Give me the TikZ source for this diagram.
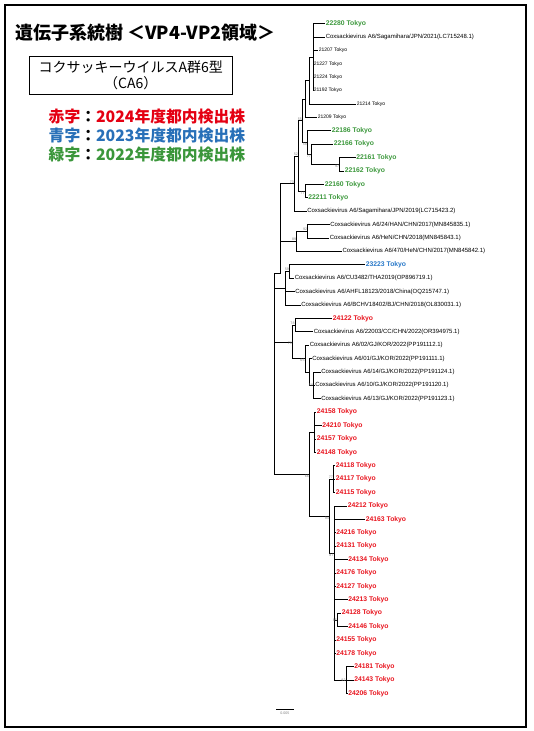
\documentclass[tikz,border=0pt]{standalone}
\usepackage{fontspec}
\setmainfont{Liberation Sans}
\newfontfamily\jpfont{Noto Sans CJK JP}
\usetikzlibrary{positioning}
\definecolor{tred}{RGB}{232,20,30}
\definecolor{tgreen}{RGB}{60,152,60}
\definecolor{tblue}{RGB}{40,120,200}
\definecolor{lred}{RGB}{228,0,18}
\definecolor{lblue}{RGB}{40,112,184}
\definecolor{lgreen}{RGB}{58,150,58}
\tikzset{
  branch/.style={line width=0.8pt},
  tipk/.style={anchor=west, inner xsep=0.6pt, inner ysep=0.4pt, font=\fontsize{6}{7}\selectfont},
  tipsm/.style={tipk, font=\fontsize{5}{6}\selectfont},
  tipg/.style={tipk, text=tgreen, font=\fontsize{6.8}{8}\selectfont\bfseries},
  tipc/.style={tipg, text=tblue},
  tipr/.style={tipg, text=tred},
  bsa/.style={anchor=south east, inner sep=0.3pt, text=gray, font=\fontsize{3.6}{4}\selectfont},
  bsb/.style={bsa, anchor=north east},
  bse/.style={bsa, anchor=east},
  legline/.style={anchor=west, inner sep=0pt, font=\jpfont\fontsize{15.8}{17}\selectfont\bfseries},
}
\begin{document}
\begin{tikzpicture}[x=1pt, y=-1pt]
\useasboundingbox (0,0) rectangle (533,731);
\draw[line width=1.2pt] (5,5) rectangle (526,727);

% heading and legend
\node[anchor=west, inner sep=0pt, font=\jpfont\fontsize{18}{20}\selectfont\bfseries] (title) at (15,33) {遺伝子系統樹 ＜VP4-VP2領域＞};
\node[draw, line width=0.9pt, minimum width=203pt, minimum height=37.6pt, inner sep=0pt, align=center, font=\jpfont\fontsize{14}{15.5}\selectfont] (cabox) at (130.8,75.5) {コクサッキーウイルスA群6型\\（CA6）};
\node[legline, text=lred] (legr) at (48.5,116.7) {赤字{\color{black}：}2024年度都内検出株};
\node[legline, text=lblue] (legb) at (48.5,135.3) {青字{\color{black}：}2023年度都内検出株};
\node[legline, text=lgreen] (legg) at (48.5,154.3) {緑字{\color{black}：}2022年度都内検出株};

% internal nodes of the tree
\coordinate (C1) at (313,57.1);
\coordinate (N309) at (309,80.6);
\coordinate (N305) at (305.3,99);
\coordinate (G3) at (339.7,164.3);
\coordinate (G2) at (311.3,154.3);
\coordinate (G1) at (307.3,142.5);
\coordinate (N55) at (302.3,120.8);
\coordinate (N77) at (305,191.1);
\coordinate (N52) at (298.3,156);
\coordinate (N73) at (294.3,183.6);
\coordinate (H92) at (307.7,231.3);
\coordinate (H89) at (296.7,241.4);
\coordinate (U) at (280.7,273.3);
\coordinate (B1) at (289.3,271.5);
\coordinate (B0) at (285.5,288.3);
\coordinate (N78) at (295,325.1);
\coordinate (K3) at (313.5,385.4);
\coordinate (K01) at (309,372);
\coordinate (K) at (305,358.6);
\coordinate (Q) at (292.3,341.9);
\coordinate (R1) at (314.3,432.3);
\coordinate (R3) at (333.3,479.2);
\coordinate (R45) at (337.3,619.9);
\coordinate (R49) at (346,680.2);
\coordinate (R4) at (334,553);
\coordinate (R2) at (329.3,516);
\coordinate (R) at (309.3,474.2);
\coordinate (root) at (274.3,373);

% tips
\node[tipg] (t01) at (325,23.6) {22280 Tokyo};
\node[tipk] (t02) at (325,37.0) {Coxsackievirus A6/Sagamihara/JPN/2021(LC715248.1)};
\node[tipsm] (t03) at (318,50.4) {21207 Tokyo};
\node[tipsm] (t04) at (313,63.8) {21227 Tokyo};
\node[tipsm] (t05) at (313,77.2) {21224 Tokyo};
\node[tipsm] (t06) at (313,90.6) {21192 Tokyo};
\node[tipsm] (t07) at (356,104.0) {21214 Tokyo};
\node[tipsm] (t08) at (317,117.4) {21209 Tokyo};
\node[tipg] (t09) at (331,130.8) {22186 Tokyo};
\node[tipg] (t10) at (333,144.2) {22166 Tokyo};
\node[tipg] (t11) at (355.5,157.6) {22161 Tokyo};
\node[tipg] (t12) at (344,171.0) {22162 Tokyo};
\node[tipg] (t13) at (324,184.4) {22160 Tokyo};
\node[tipg] (t14) at (307.5,197.8) {22211 Tokyo};
\node[tipk] (t15) at (306.5,211.2) {Coxsackievirus A6/Sagamihara/JPN/2019(LC715423.2)};
\node[tipk] (t16) at (329.5,224.6) {Coxsackievirus A6/24/HAN/CHN/2017(MN845835.1)};
\node[tipk] (t17) at (329,238.0) {Coxsackievirus A6/HeN/CHN/2018(MN845843.1)};
\node[tipk] (t18) at (341.7,251.4) {Coxsackievirus A6/470/HeN/CHN/2017(MN845842.1)};
\node[tipc] (t19) at (365,264.8) {23223 Tokyo};
\node[tipk] (t20) at (294,278.2) {Coxsackievirus A6/CU3482/THA2019(OP896719.1)};
\node[tipk] (t21) at (294.5,291.6) {Coxsackievirus A6/AHFL18123/2018/China(OQ215747.1)};
\node[tipk] (t22) at (300.5,305.0) {Coxsackievirus A6/BCHV18402/BJ/CHN/2018(OL830031.1)};
\node[tipr] (t23) at (332,318.4) {24122 Tokyo};
\node[tipk] (t24) at (313,331.8) {Coxsackievirus A6/22003/CC/CHN/2022(OR394975.1)};
\node[tipk] (t25) at (309,345.2) {Coxsackievirus A6/02/GJ/KOR/2022(PP191112.1)};
\node[tipk] (t26) at (311.5,358.6) {Coxsackievirus A6/01/GJ/KOR/2022(PP191111.1)};
\node[tipk] (t27) at (320.5,372.0) {Coxsackievirus A6/14/GJ/KOR/2022(PP191124.1)};
\node[tipk] (t28) at (314.5,385.4) {Coxsackievirus A6/10/GJ/KOR/2022(PP191120.1)};
\node[tipk] (t29) at (320.5,398.8) {Coxsackievirus A6/13/GJ/KOR/2022(PP191123.1)};
\node[tipr] (t30) at (316,412.2) {24158 Tokyo};
\node[tipr] (t31) at (321.5,425.6) {24210 Tokyo};
\node[tipr] (t32) at (316,439.0) {24157 Tokyo};
\node[tipr] (t33) at (316,452.4) {24148 Tokyo};
\node[tipr] (t34) at (335,465.8) {24118 Tokyo};
\node[tipr] (t35) at (335,479.2) {24117 Tokyo};
\node[tipr] (t36) at (335,492.6) {24115 Tokyo};
\node[tipr] (t37) at (347,506.0) {24212 Tokyo};
\node[tipr] (t38) at (365,519.4) {24163 Tokyo};
\node[tipr] (t39) at (335.5,532.8) {24216 Tokyo};
\node[tipr] (t40) at (335.5,546.2) {24131 Tokyo};
\node[tipr] (t41) at (347.5,559.6) {24134 Tokyo};
\node[tipr] (t42) at (335.5,573.0) {24176 Tokyo};
\node[tipr] (t43) at (335.5,586.4) {24127 Tokyo};
\node[tipr] (t44) at (347.5,599.8) {24213 Tokyo};
\node[tipr] (t45) at (341,613.2) {24128 Tokyo};
\node[tipr] (t46) at (347.5,626.6) {24146 Tokyo};
\node[tipr] (t47) at (335.5,640.0) {24155 Tokyo};
\node[tipr] (t48) at (335.5,653.4) {24178 Tokyo};
\node[tipr] (t49) at (353.5,666.8) {24181 Tokyo};
\node[tipr] (t50) at (353.5,680.2) {24143 Tokyo};
\node[tipr] (t51) at (347.5,693.6) {24206 Tokyo};

% branches
\foreach \c in {t01,t02,t03,t04,t05,t06} \draw[branch] (C1) |- (\c.west);
\draw[branch] (N309) |- (C1) (N309) |- (t07.west);
\draw[branch] (N305) |- (N309) (N305) |- (t08.west);
\draw[branch] (G3) |- (t11.west) (G3) |- (t12.west);
\draw[branch] (G2) |- (t10.west) (G2) |- (G3);
\draw[branch] (G1) |- (t09.west) (G1) |- (G2);
\draw[branch] (N55) |- (N305) (N55) |- (G1);
\draw[branch] (N77) |- (t13.west) (N77) |- (t14.west);
\draw[branch] (N52) |- (N55) (N52) |- (N77);
\draw[branch] (N73) |- (N52) (N73) |- (t15.west);
\draw[branch] (H92) |- (t16.west) (H92) |- (t17.west);
\draw[branch] (H89) |- (H92) (H89) |- (t18.west);
\draw[branch] (U) |- (N73) (U) |- (H89);
\draw[branch] (B1) |- (t19.west) (B1) |- (t20.west);
\draw[branch] (B0) |- (B1) (B0) |- (t21.west) (B0) |- (t22.west);
\draw[branch] (N78) |- (t23.west) (N78) |- (t24.west);
\foreach \c in {t27,t28,t29} \draw[branch] (K3) |- (\c.west);
\draw[branch] (K01) |- (t26.west) (K01) |- (K3);
\draw[branch] (K) |- (t25.west) (K) |- (K01);
\draw[branch] (Q) |- (N78) (Q) |- (K);
\foreach \c in {t30,t31,t32,t33} \draw[branch] (R1) |- (\c.west);
\foreach \c in {t34,t35,t36} \draw[branch] (R3) |- (\c.west);
\draw[branch] (R45) |- (t45.west) (R45) |- (t46.west);
\foreach \c in {t49,t50,t51} \draw[branch] (R49) |- (\c.west);
\foreach \c in {t37,t38,t39,t40,t41,t42,t43,t44,t47,t48} \draw[branch] (R4) |- (\c.west);
\draw[branch] (R4) |- (R45) (R4) |- (R49);
\draw[branch] (R2) |- (R3) (R2) |- (R4);
\draw[branch] (R) |- (R1) (R) |- (R2);
\draw[branch] (root) |- (U) (root) |- (B0) (root) |- (Q) (root) |- (R);

% bootstrap values
\node[bsa] (b55) at (N55) {55};
\node[bsb] (b58) at (G1) {58};
\node[bsb] (b77a) at (G2) {77};
\node[bsb] (b97) at (G3) {97};
\node[bsb] (b77b) at (N77) {77};
\node[bsa] (b52) at (N52) {52};
\node[bsa] (b73) at (N73) {73};
\node[bsa] (b92a) at (H92) {92};
\node[bsa] (b89) at (H89) {89};
\node[bsa] (b59) at (B1) {59};
\node[bsa] (b78) at (N78) {78};
\node[bsb] (b79) at (Q) {79};
\node[bsb] (b65) at (K) {65};
\node[bse] (b58b) at (K3) {58};
\node[bsb] (b66) at (R) {66};
\node[bsa] (b77c) at (R3) {77};
\node[bsb] (b94) at (R2) {94};
\node[bsb] (b87) at (R4) {87};
\node[bse] (b85) at (R45) {85};
\node[bse] (b92b) at (R49) {92};

% scale bar
\coordinate (sbl) at (276,709);
\coordinate (sbr) at (293.7,709);
\draw[line width=0.6pt] (sbl) -- (sbr);
\node[bsa, anchor=north] (sbtext) at (284.8,711) {0.005};
\end{tikzpicture}
\end{document}
